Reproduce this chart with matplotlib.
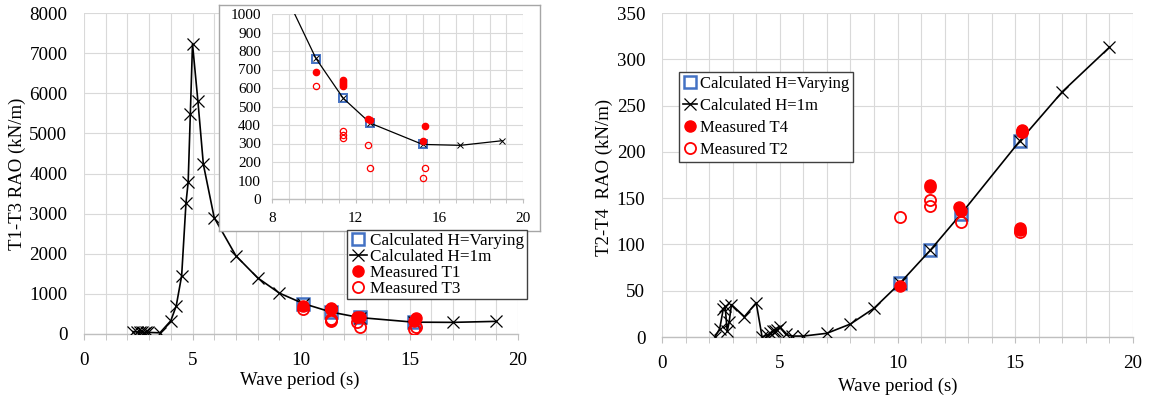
import matplotlib
matplotlib.use("Agg")
import matplotlib.pyplot as plt
from matplotlib.ticker import MultipleLocator
from matplotlib.lines import Line2D

plt.rcParams['font.family'] = ['Liberation Serif', 'DejaVu Serif']

# ---------------- data ----------------
period_calc = [2.25, 2.45, 2.6, 2.68, 2.77, 2.85, 2.95, 3.5, 4.0, 4.25, 4.5, 4.7, 4.8, 4.9,
               5.0, 5.25, 5.5, 6.0, 7.0, 8.0, 9.0, 10.1, 11.4, 12.7, 15.2, 17.0, 19.0]
rao13_calc = [60, 50, 40, 60, 30, 50, 40, 30, 330, 700, 1450, 3270, 3780, 5480,
              7230, 5800, 4230, 2900, 1950, 1400, 1020, 760, 545, 410, 295, 290, 315]
period_calc_r = [2.25, 2.45, 2.6, 2.68, 2.77, 2.85, 2.95, 3.5, 4.0, 4.25, 4.45, 4.6, 4.7, 4.8,
                 4.9, 5.0, 5.25, 5.5, 6.0, 7.0, 8.0, 9.0, 10.1, 11.4, 12.7, 15.2, 17.0, 19.0]
rao24_calc = [0, 9, 30, 33, 6, 16, 35, 22, 37, 0, 2, 4, 6, 7,
              8, 11, 3, 1, 1, 4, 14, 31, 58, 94, 133, 212, 265, 313]

period_var = [10.1, 11.4, 12.7, 15.2]
rao13_var = [758, 548, 413, 298]
rao24_var = [58, 94, 133, 212]

period_t1 = [10.1, 11.4, 11.4, 11.4, 11.4, 12.6, 12.7, 15.2, 15.3]
rao_t1 = [688, 643, 630, 620, 611, 430, 425, 315, 395]
period_t3 = [10.1, 11.4, 11.4, 11.4, 12.6, 12.7, 15.2, 15.3]
rao_t3 = [613, 368, 346, 332, 292, 168, 113, 168]

period_t4 = [10.1, 11.4, 11.4, 12.6, 12.7, 15.2, 15.2, 15.3, 15.3]
rao_t4 = [55, 164, 162, 140, 136, 118, 116, 224, 222]
period_t2 = [10.1, 11.4, 11.4, 12.7, 15.2, 15.3]
rao_t2 = [130, 148, 142, 124, 113, 221]

# ---------------- layout ----------------
W, H = 1154, 401
fig = plt.figure(figsize=(W / 100, H / 100), dpi=100)
fig.patch.set_facecolor('white')


def rect(x0, y0, x1, y1):
    return [x0 / W, 1 - y1 / H, (x1 - x0) / W, (y1 - y0) / H]


BLUE = '#4472C4'
RED = '#FF0000'
GRID = '#D9D9D9'
AXC = '#BFBFBF'
FS = 13.7


def style(ax, xmaj, xmin, ymaj, fs, padx, pady, ticklen=4):
    ax.xaxis.set_major_locator(MultipleLocator(xmaj))
    ax.xaxis.set_minor_locator(MultipleLocator(xmin))
    ax.yaxis.set_major_locator(MultipleLocator(ymaj))
    ax.grid(which='both', axis='x', color=GRID, lw=0.8, zorder=0)
    ax.grid(which='major', axis='y', color=GRID, lw=0.8, zorder=0)
    for s in ['top', 'right', 'left']:
        ax.spines[s].set_visible(False)
    ax.spines['bottom'].set_color(AXC)
    ax.spines['bottom'].set_linewidth(1.0)
    ax.tick_params(axis='x', which='both', direction='out', length=ticklen, color=AXC,
                   labelsize=fs, pad=padx)
    ax.tick_params(axis='x', which='minor', labelbottom=False)
    ax.tick_params(axis='y', which='both', length=0, labelsize=fs, pad=pady)
    ax.set_axisbelow(True)


# ---------- left main chart ----------
axL = fig.add_axes(rect(84, 13, 518, 334))
axL.set_zorder(1)
axL.set_xlim(0, 20)
axL.set_ylim(0, 8000)
style(axL, 5, 1, 1000, FS, 9, 12)
axL.plot(period_var, rao13_var, ls='none', marker='s', ms=9, mfc='none', mec=BLUE, mew=1.8, zorder=3)
axL.plot(period_calc, rao13_calc, color='black', lw=1.2, marker='x', ms=9, mew=0.9, zorder=4)
axL.plot(period_t1, rao_t1, ls='none', marker='o', ms=8, mfc=RED, mec=RED, zorder=5)
axL.plot(period_t3, rao_t3, ls='none', marker='o', ms=8, mfc='none', mec=RED, mew=1.3, zorder=5)

fig.text(300 / W, 1 - 380 / H, 'Wave period (s)', ha='center', va='center', fontsize=13.5)
fig.text(17 / W, 1 - 174 / H, 'T1-T3 RAO (kN/m)', ha='center', va='center', rotation=90, fontsize=13.5)

# ---------- inset ----------
box = fig.add_axes(rect(219, 5, 540, 231))
box.set_zorder(2)
box.set_xticks([]); box.set_yticks([])
box.set_facecolor('white')
for s in box.spines.values():
    s.set_color('#A6A6A6')
    s.set_linewidth(1.0)

axI = fig.add_axes(rect(272, 14, 523, 199))
axI.set_zorder(3)
axI.patch.set_alpha(0)
axI.set_xlim(8, 20)
axI.set_ylim(0, 1000)
style(axI, 4, 0.8, 100, 11, 6, 8, ticklen=3)
axI.set_xticks([8, 12, 16, 20])
axI.plot(period_var, rao13_var, ls='none', marker='s', ms=5.5, mfc='none', mec=BLUE, mew=1.4, zorder=3)
axI.plot(period_calc, rao13_calc, color='black', lw=0.9, marker='x', ms=5, mew=0.7, zorder=4)
axI.plot(period_t1, rao_t1, ls='none', marker='o', ms=4.5, mfc=RED, mec=RED, zorder=5)
axI.plot(period_t3, rao_t3, ls='none', marker='o', ms=4.5, mfc='none', mec=RED, mew=0.9, zorder=5)

# left legend
hL = [Line2D([], [], ls='none', marker='s', ms=9, mfc='none', mec=BLUE, mew=1.8),
      Line2D([], [], color='black', lw=1.2, marker='x', ms=8, mew=0.9),
      Line2D([], [], ls='none', marker='o', ms=8, mfc=RED, mec=RED),
      Line2D([], [], ls='none', marker='o', ms=8, mfc='none', mec=RED, mew=1.3)]
lgL = fig.legend(hL, ['Calculated H=Varying', 'Calculated H=1m', 'Measured T1', 'Measured T3'],
                 loc='upper left', bbox_to_anchor=(347 / W, 1 - 230 / H), borderaxespad=0,
                 fontsize=12.3, frameon=True, fancybox=False, edgecolor='#404040', framealpha=1,
                 handlelength=1.0, handletextpad=0.2, borderpad=0.15, labelspacing=0.0)
lgL.get_frame().set_linewidth(1.0)
lgL.set_zorder(10)

# ---------- right chart ----------
axR = fig.add_axes(rect(662, 13, 1133, 337))
axR.set_xlim(0, 20)
axR.set_ylim(0, 350)
style(axR, 5, 1, 50, FS, 9, 12)
axR.plot(period_var, rao24_var, ls='none', marker='s', ms=9, mfc='none', mec=BLUE, mew=1.8, zorder=3)
axR.plot(period_calc_r, rao24_calc, color='black', lw=1.2, marker='x', ms=9, mew=0.9, zorder=4)
axR.plot(period_t4, rao_t4, ls='none', marker='o', ms=8, mfc=RED, mec=RED, zorder=5)
axR.plot(period_t2, rao_t2, ls='none', marker='o', ms=8, mfc='none', mec=RED, mew=1.3, zorder=5)

fig.text(898 / W, 1 - 386 / H, 'Wave period (s)', ha='center', va='center', fontsize=13.5)
fig.text(604 / W, 1 - 177 / H, 'T2-T4  RAO (kN/m)', ha='center', va='center', rotation=90, fontsize=13.5)

hR = [Line2D([], [], ls='none', marker='s', ms=9, mfc='none', mec=BLUE, mew=1.8),
      Line2D([], [], color='black', lw=1.2, marker='x', ms=8, mew=0.9),
      Line2D([], [], ls='none', marker='o', ms=8, mfc=RED, mec=RED),
      Line2D([], [], ls='none', marker='o', ms=8, mfc='none', mec=RED, mew=1.3)]
lgR = axR.legend(hR, ['Calculated H=Varying', 'Calculated H=1m', 'Measured T4', 'Measured T2'],
                 loc='upper left', bbox_to_anchor=((679 - 662) / 471, (337 - 72) / 324),
                 borderaxespad=0, fontsize=12, frameon=True, fancybox=False, edgecolor='#404040',
                 framealpha=1, handlelength=0.8, handletextpad=0.2, borderpad=0.25, labelspacing=0.35)
lgR.get_frame().set_linewidth(1.0)

fig.savefig('out.png', dpi=100)
